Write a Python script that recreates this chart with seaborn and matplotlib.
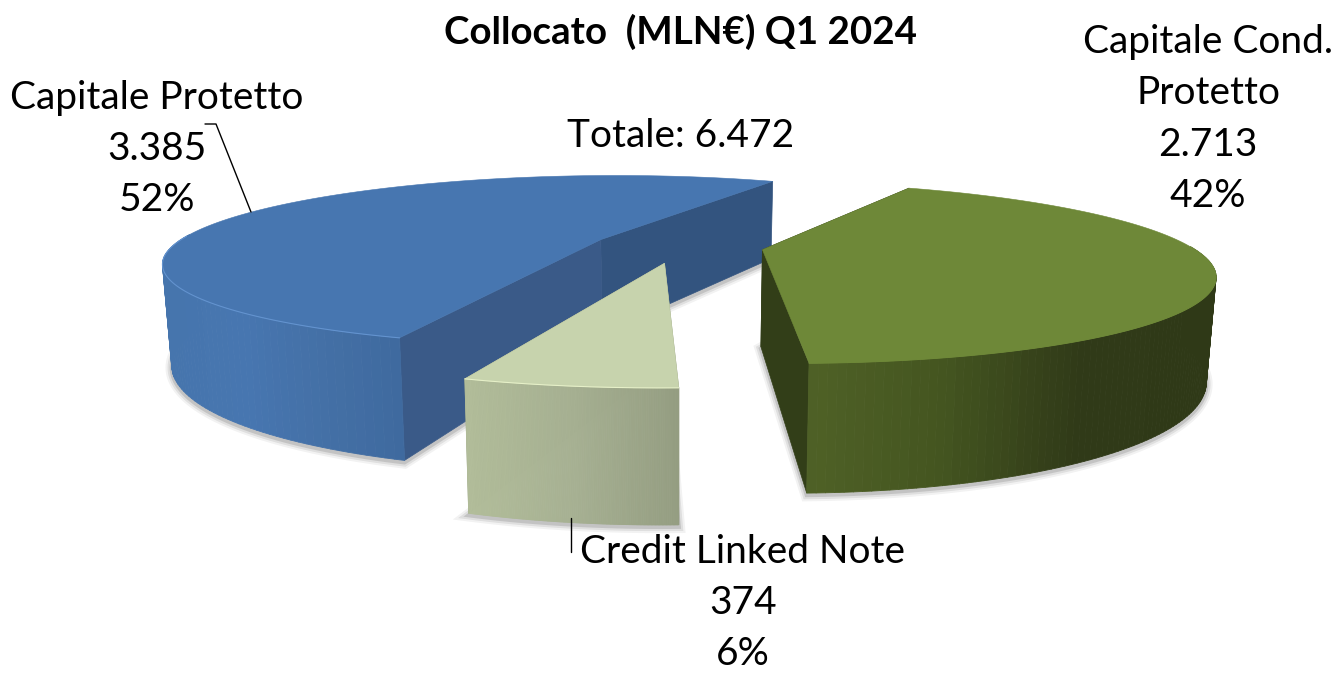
import numpy as np
import matplotlib
matplotlib.use("Agg")
import matplotlib.pyplot as plt
from matplotlib.collections import PolyCollection
import seaborn as sns

# data
categories = ["Capitale Protetto", "Capitale Cond.\nProtetto", "Credit Linked Note"]
values = [3385, 2713, 374]
value_labels = ["3.385", "2.713", "374"]
pct_labels = ["52%", "42%", "6%"]
total_label = "Totale: 6.472"
title = "Collocato  (MLN€) Q1 2024"

# one colour set per slice, same order as categories
top_colors = ["#4776b0", "#6e8838", "#c7d3ad"]
rim_colors = ["#6393cf", "#6e8838", "#e6f0c8"]
wall_colors = [("#33547f", "#3a5a88"), ("#323e18", "#323e18"), ("#949d81", "#949d81")]
side_ramps = [
    ["#4675ad", "#4776b0", "#4470a6", "#3f6a9f"],
    ["#4f6126", "#445520", "#303a18", "#2f3917"],
    ["#b2bd9a", "#a6b092", "#949d81"],
]

# camera of the fake 3d view
CX, CY = 678, 246
SX, SY = 428, 83
PERSP = 0.25
HEIGHT = 96
TAPER = 0.018
EXPLODE = 0.2
START_DEG = -62.7


def project(u, v, z=0.0):
    w = 1.0 / (1.0 - PERSP * v)
    x = CX + SX * u * w
    y = CY + SY * v * w + HEIGHT * w * z
    return x + (CX - x) * TAPER * z, y


def draw_slice(ax, a0, a1, i):
    mid = np.radians((a0 + a1) / 2)
    ou, ov = EXPLODE * np.cos(mid), EXPLODE * np.sin(mid)
    th = np.radians(np.linspace(a0, a1, 160))
    u, v = ou + np.cos(th), ov + np.sin(th)

    # soft shadow under the bottom outline
    bx, by = project(np.r_[ou, u], np.r_[ov, v], 1.0)
    for lw, alpha in [(9, 0.05), (6, 0.08), (3, 0.12)]:
        ax.fill(bx, by + 2, fc="none", ec="black", lw=lw, alpha=alpha, zorder=i)

    # flat walls, from the apex out to both edges
    for k, (eu, ev) in enumerate([(u[-1], v[-1]), (u[0], v[0])]):
        xa, ya = project(np.array([ou, eu]), np.array([ov, ev]))
        xb, yb = project(np.array([eu, ou]), np.array([ev, ov]), 1.0)
        ax.fill(np.r_[xa, xb], np.r_[ya, yb], color=wall_colors[i][k], lw=0.5, zorder=i + 0.1 + k * 0.01)

    # curved side as thin strips, shaded left to right, only the part facing us
    xt, yt = project(u, v)
    xd, yd = project(u, v, 1.0)
    front = np.sin(th) > -0.05
    ramp = sns.blend_palette(side_ramps[i], n_colors=64)
    span = (xt[front].min(), xt[front].max())
    polys, cols = [], []
    for j in range(len(th) - 1):
        if not front[j]:
            continue
        polys.append([(xt[j], yt[j]), (xt[j + 1], yt[j + 1]), (xd[j + 1], yd[j + 1]), (xd[j], yd[j])])
        t = np.clip((xt[j] - span[0]) / (span[1] - span[0]), 0, 1)
        cols.append(ramp[int(t * 63)])
    ax.add_collection(PolyCollection(polys, facecolors=cols, edgecolors=cols, linewidths=0.6, zorder=i + 0.2))

    # top face
    xa, ya = project(ou, ov)
    ax.fill(np.r_[xa, xt], np.r_[ya, yt], color=top_colors[i], lw=0.4, zorder=i + 0.3)
    ax.plot(xt[front], yt[front], color=rim_colors[i], lw=0.8, zorder=i + 0.4)


sns.set_theme(style="white")
plt.rcParams["font.family"] = ["Lato", "DejaVu Sans"]

fig, ax = plt.subplots(figsize=(13.38, 6.74), dpi=100)
ax.set_position([0, 0, 1, 1])
ax.set_xlim(0, 1338)
ax.set_ylim(674, 0)
ax.axis("off")

sweeps = 360.0 * np.array(values) / sum(values)
a_green = START_DEG
a_light = a_green + sweeps[1]
a_blue = a_light + sweeps[2]

draw_slice(ax, a_blue, a_blue + sweeps[0], 0)
draw_slice(ax, a_green, a_green + sweeps[1], 1)
draw_slice(ax, a_light, a_light + sweeps[2], 2)

ax.plot([205, 216, 251], [124, 124, 212], color="black", lw=1, zorder=5)
ax.plot([571, 571], [518, 552], color="black", lw=1, zorder=5)

txt = dict(color="black", fontsize=28, ha="center", va="center", linespacing=1.53, zorder=6)
ax.text(681, 32, title, fontsize=27.7, fontweight="bold", ha="center", va="center", color="black")
ax.text(681, 136, total_label, **txt)
ax.text(157, 149, f"{categories[0]}\n{value_labels[0]}\n{pct_labels[0]}", **txt)
ax.text(1208, 119, f"{categories[1]}\n{value_labels[1]}\n{pct_labels[1]}", **txt)
ax.text(743, 603, f"{categories[2]}\n{value_labels[2]}\n{pct_labels[2]}", **txt)

fig.savefig("out.png", dpi=100)
